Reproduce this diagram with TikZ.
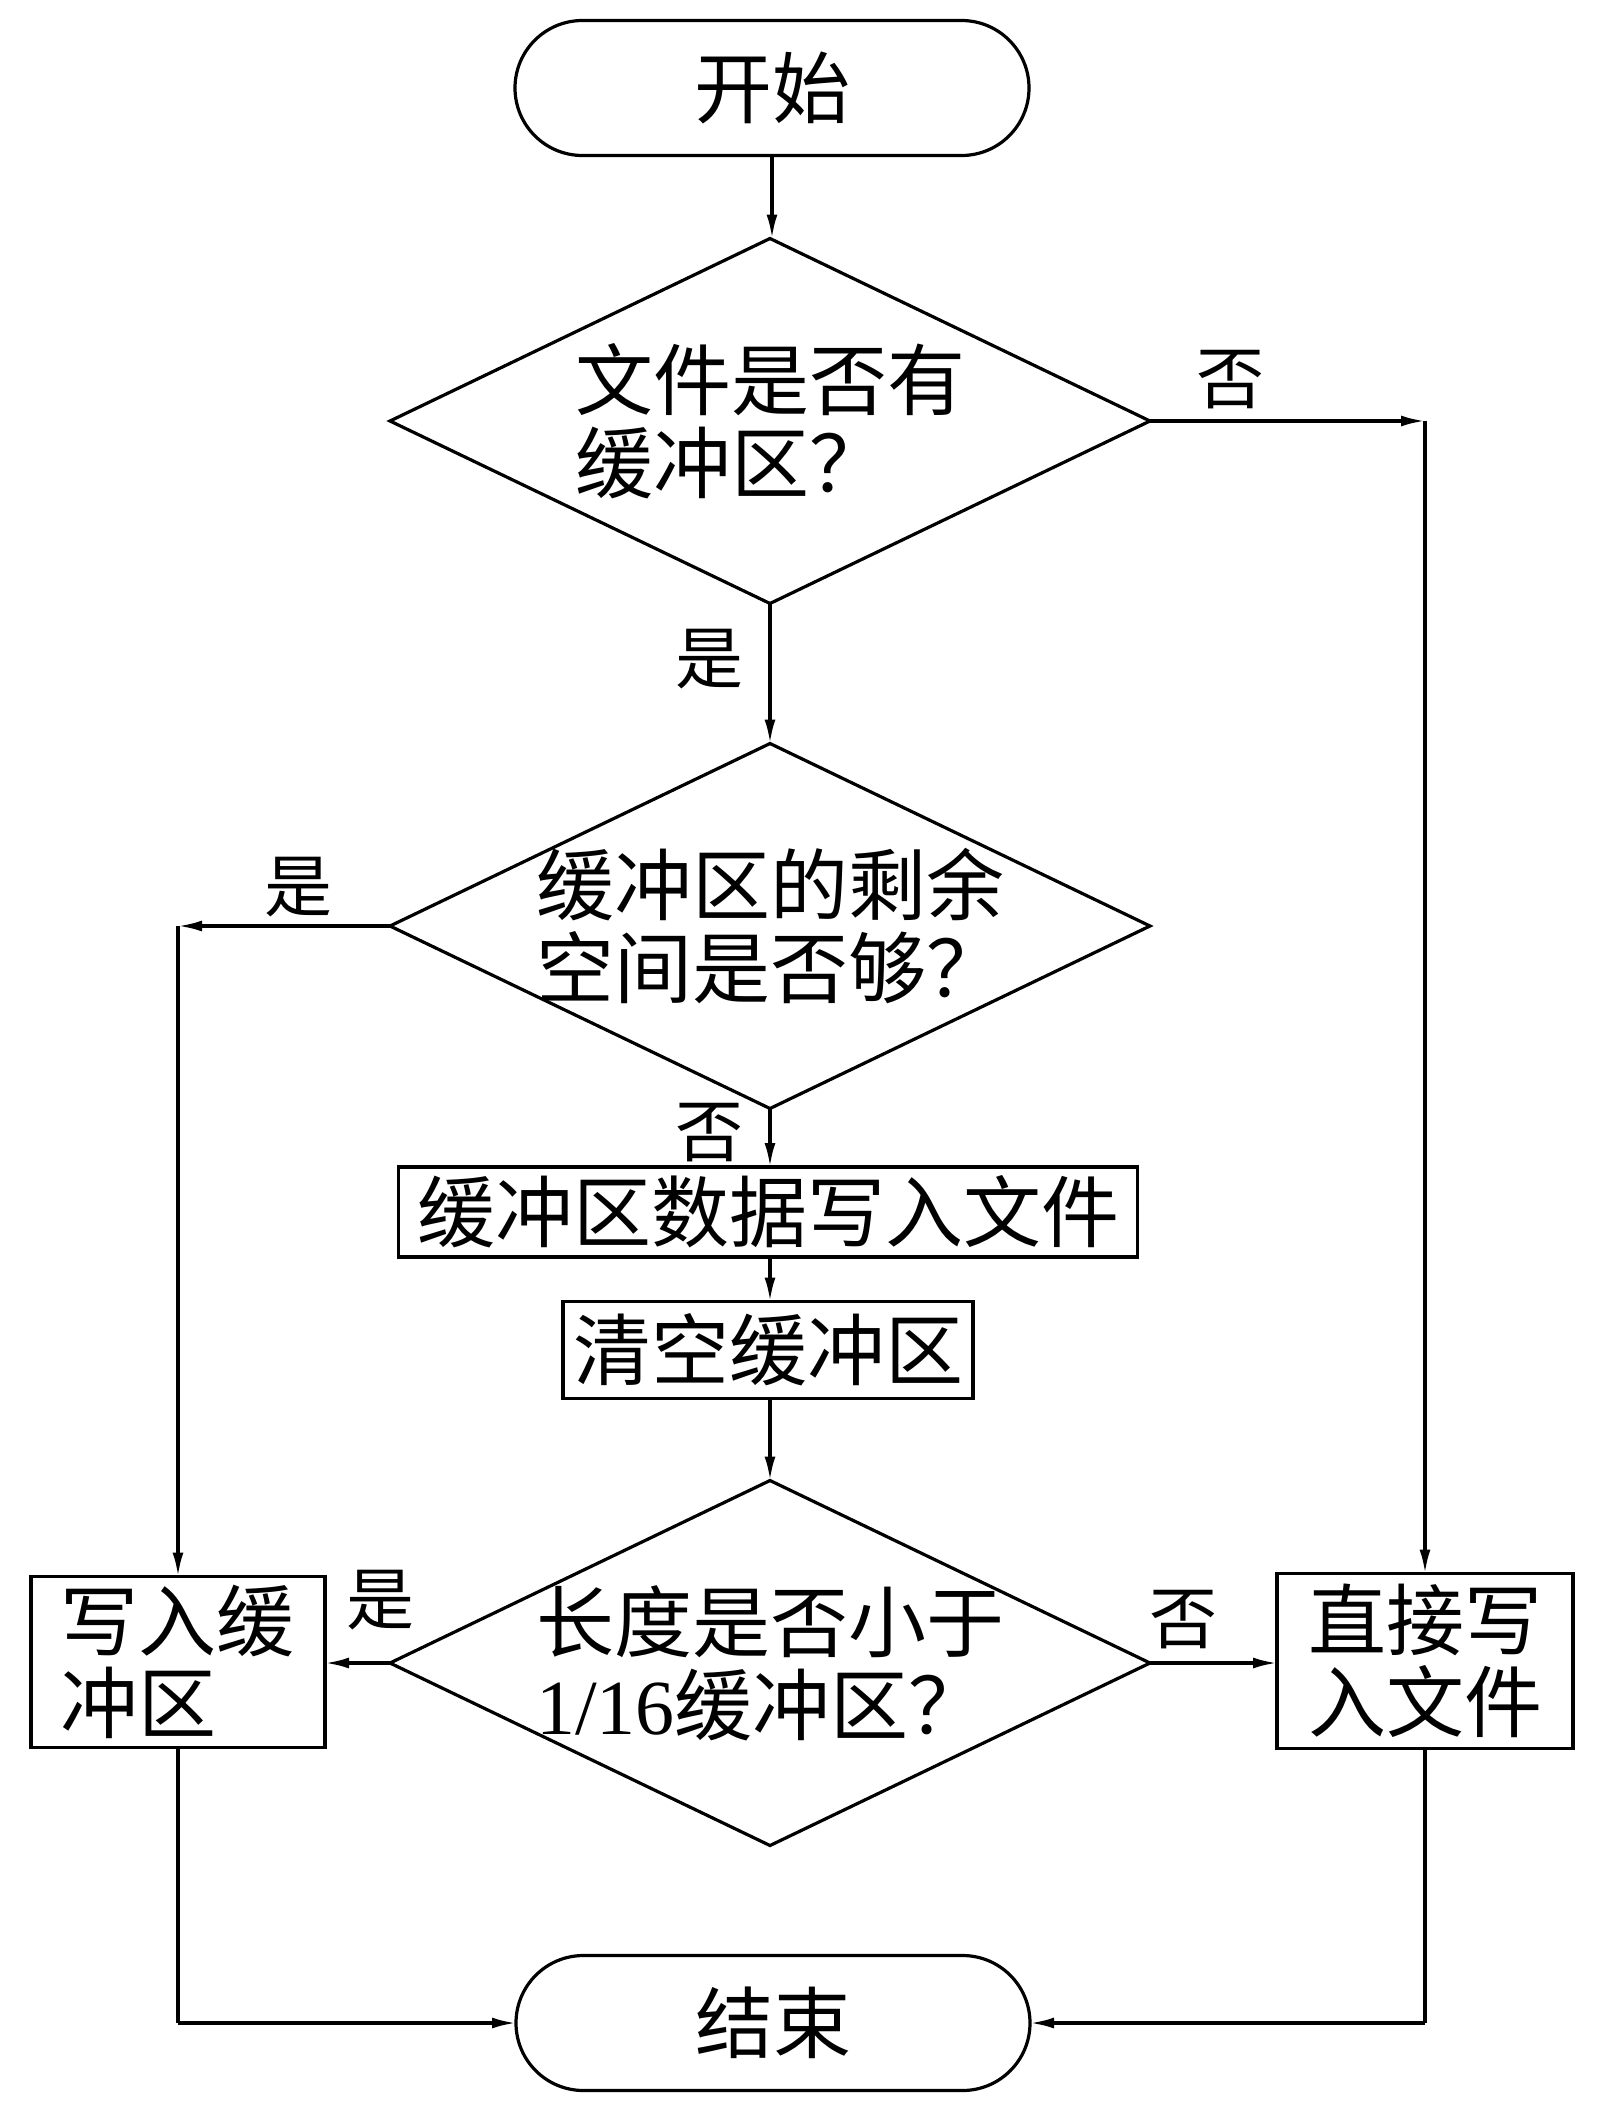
\documentclass[tikz,border=0pt]{standalone}
\usepackage{fontspec}
\setmainfont{Liberation Serif}
\newfontfamily\cjk{Noto Sans CJK SC}
\usetikzlibrary{shapes.geometric,shapes.misc,arrows.meta}
\begin{document}
\begin{tikzpicture}[x=0.5pt,y=-0.5pt,
 every node/.style={inner sep=0pt, outer sep=0pt},
 line/.style={line width=1.6pt},
 arr/.style={line width=1.6pt, -{Latex[length=12pt,width=5.5pt]}},
 term/.style={draw, line width=1.6pt, rounded rectangle, minimum width=257pt, minimum height=67.5pt, font=\cjk\fontsize{39}{41}\selectfont},
 dia/.style={draw, line width=1.6pt, diamond, minimum width=380pt, minimum height=182.5pt},
 txt/.style={align=left, font=\cjk\fontsize{39}{41.5}\selectfont},
 box/.style={draw, line width=1.6pt, align=left, font=\cjk\fontsize{39}{41}\selectfont},
 lab/.style={font=\cjk\fontsize{34}{36}\selectfont}]
\useasboundingbox[fill=white] (0,0) rectangle (1600,2109);

\node[term] (start) at (772,88) {开始};
\node[dia] (d1) at (770,421) {};
\node[txt] (d1t) at (770,421) {文件是否有\\缓冲区？};
\node[dia] (d2) at (770,926) {};
\node[txt] (d2t) at (770,926) {缓冲区的剩余\\空间是否够？};
\node[box, minimum width=369.5pt, minimum height=45pt] (b1) at (768,1212) {缓冲区数据写入文件};
\node[box, minimum width=205pt, minimum height=48.5pt] (b2) at (768,1350) {清空缓冲区};
\node[dia] (d3) at (770,1663) {};
\node[txt] (d3t) at (770,1663) {长度是否小于\\{\rmfamily 1/16}缓冲区？};
\node[box, minimum width=147pt, minimum height=85.5pt] (lb) at (178,1662) {写入缓\\冲区};
\node[box, minimum width=148pt, minimum height=87.5pt] (rb) at (1425,1661) {直接写\\入文件};
\node[term] (end) at (773,2023) {结束};

\coordinate (c1) at (rb.north |- d1.east);
\coordinate (c2) at (lb.north |- d2.west);
\coordinate (c3) at (lb.south |- end.west);
\coordinate (c4) at (rb.south |- end.east);

\draw[arr] (start.south) -- (start.south |- d1.north);
\draw[arr] (d1.east) -- (c1);
\draw[arr] (c1) -- (rb.north);
\draw[arr] (d1.south) -- (d2.north);
\draw[arr] (d2.west) -- (c2);
\draw[arr] (c2) -- (lb.north);
\draw[arr] (d2.south) -- (d2.south |- b1.north);
\draw[arr] (b1.south -| d2.south) -- (d2.south |- b2.north);
\draw[arr] (b2.south -| d2.south) -- (d3.north);
\draw[arr] (d3.west) -- (lb.east |- d3.west);
\draw[arr] (d3.east) -- (rb.west |- d3.east);
\draw[line] (lb.south) -- (c3);
\draw[arr] (c3) -- (end.west);
\draw[line] (rb.south) -- (c4);
\draw[arr] (c4) -- (end.east);

\node[lab] (l1) at (1230,380) {否};
\node[lab] (l2) at (709,659) {是};
\node[lab] (l3) at (298,887) {是};
\node[lab] (l4) at (709,1133) {否};
\node[lab] (l5) at (380,1600) {是};
\node[lab] (l6) at (1183,1620) {否};
\end{tikzpicture}
\end{document}
